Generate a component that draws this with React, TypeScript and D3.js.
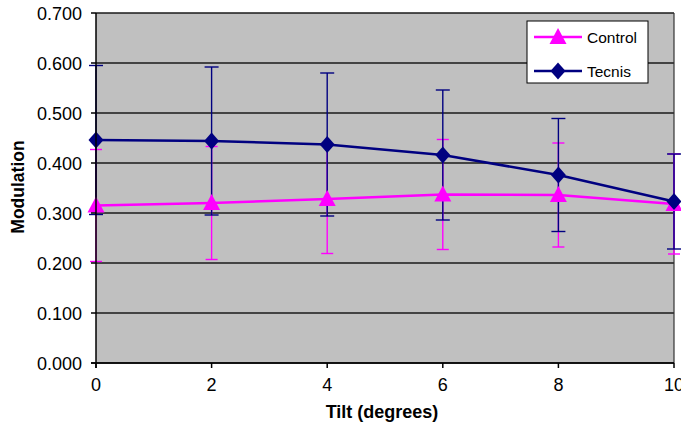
import React from "react";
import * as d3 from "d3";

const tilts = [0, 2, 4, 6, 8, 10];
const controlValues = [0.315, 0.32, 0.328, 0.337, 0.336, 0.318];
const controlErrors = [0.112, 0.113, 0.109, 0.11, 0.104, 0.1];
const tecnisValues = [0.446, 0.444, 0.437, 0.416, 0.376, 0.323];
const tecnisErrors = [0.149, 0.148, 0.143, 0.13, 0.113, 0.095];
const yTicks = [0, 0.1, 0.2, 0.3, 0.4, 0.5, 0.6, 0.7];
const xTicks = [0, 2, 4, 6, 8, 10];
const seriesNames = ["Control", "Tecnis"];

const W = 681;
const H = 426;
const FONT = "'Liberation Sans', Arial, sans-serif";

export default function App() {
  const x = d3.scaleLinear().domain([0, 10]).range([96, 674]);
  const y = d3.scaleLinear().domain([0, 0.7]).range([363, 13]);
  const line = d3
    .line<[number, number]>()
    .x((d) => x(d[0]))
    .y((d) => y(d[1]));

  const control = tilts.map((t, i) => [t, controlValues[i]] as [number, number]);
  const tecnis = tilts.map((t, i) => [t, tecnisValues[i]] as [number, number]);

  const magenta = "#FF00FF";
  const navy = "#000080";

  const errBars = (vals: number[], errs: number[], color: string, cap: number) =>
    tilts.map((t, i) => {
      const cx = x(t);
      const y1 = y(vals[i] + errs[i]);
      const y2 = y(vals[i] - errs[i]);
      return (
        <g key={i} stroke={color} strokeWidth={1.4}>
          <line x1={cx} x2={cx} y1={y1} y2={y2} />
          <line x1={cx - cap} x2={cx + cap} y1={y1} y2={y1} />
          <line x1={cx - cap} x2={cx + cap} y1={y2} y2={y2} />
        </g>
      );
    });

  const triangle = (cx: number, cy: number, key: any) => (
    <path
      key={key}
      d={`M${cx},${cy - 9} L${cx + 8.5},${cy + 7} L${cx - 8.5},${cy + 7} Z`}
      fill={magenta}
    />
  );
  const diamond = (cx: number, cy: number, key: any) => (
    <path
      key={key}
      d={`M${cx},${cy - 8.5} L${cx + 7.5},${cy} L${cx},${cy + 8.5} L${cx - 7.5},${cy} Z`}
      fill={navy}
    />
  );

  return (
    <svg
      width={W}
      height={H}
      style={{ position: "absolute", left: 0, top: 0, overflow: "hidden", background: "#fff" }}
      fontFamily={FONT}
    >
      <rect x={x(0)} y={y(0.7)} width={x(10) - x(0)} height={y(0) - y(0.7)} fill="#C0C0C0" />
      {yTicks.map((t) => (
        <line key={t} x1={x(0)} x2={x(10)} y1={y(t)} y2={y(t)} stroke="#1a1a1a" strokeWidth={1.5} />
      ))}
      <line x1={x(10)} x2={x(10)} y1={y(0.7)} y2={y(0)} stroke="#333" strokeWidth={1.2} />

      {errBars(controlValues, controlErrors, magenta, 6)}
      {errBars(tecnisValues, tecnisErrors, navy, 7)}

      <path d={line(control) || ""} fill="none" stroke={magenta} strokeWidth={2.5} />
      {control.map((d, i) => triangle(x(d[0]), y(d[1]), "c" + i))}
      <path d={line(tecnis) || ""} fill="none" stroke={navy} strokeWidth={2.5} />
      {tecnis.map((d, i) => diamond(x(d[0]), y(d[1]), "t" + i))}

      <line x1={x(0)} x2={x(0)} y1={y(0.7)} y2={y(0) + 5} stroke="#000" strokeWidth={1.5} />
      <line x1={x(0) - 5} x2={x(10)} y1={y(0)} y2={y(0)} stroke="#000" strokeWidth={1.5} />
      {yTicks.map((t) => (
        <g key={"yt" + t}>
          <line x1={x(0) - 5} x2={x(0)} y1={y(t)} y2={y(t)} stroke="#000" strokeWidth={1.5} />
          <text x={82} y={y(t) + 7} textAnchor="end" fontSize={18} fill="#000">
            {d3.format(".3f")(t)}
          </text>
        </g>
      ))}
      {xTicks.map((t) => (
        <g key={"xt" + t}>
          <line x1={x(t)} x2={x(t)} y1={y(0)} y2={y(0) + 5} stroke="#000" strokeWidth={1.5} />
          <text x={x(t)} y={391} textAnchor="middle" fontSize={18} fill="#000">
            {t}
          </text>
        </g>
      ))}

      <text x={382} y={418} textAnchor="middle" fontSize={18} fontWeight="bold" fill="#000">
        Tilt (degrees)
      </text>
      <text
        transform={`translate(24,187) rotate(-90)`}
        textAnchor="middle"
        fontSize={17.5}
        fontWeight="bold"
        fill="#000"
      >
        Modulation
      </text>

      <rect x={527} y={21} width={121} height={62} fill="#fff" stroke="#000" strokeWidth={1} />
      <line x1={534} x2={582} y1={37} y2={37} stroke={magenta} strokeWidth={2.5} />
      {triangle(558, 37, "lt")}
      <text x={587} y={43} fontSize={15.5} fill="#000">{seriesNames[0]}</text>
      <line x1={534} x2={582} y1={71} y2={71} stroke={navy} strokeWidth={2.5} />
      {diamond(558, 71, "ld")}
      <text x={587} y={77} fontSize={15.5} fill="#000">{seriesNames[1]}</text>
    </svg>
  );
}
